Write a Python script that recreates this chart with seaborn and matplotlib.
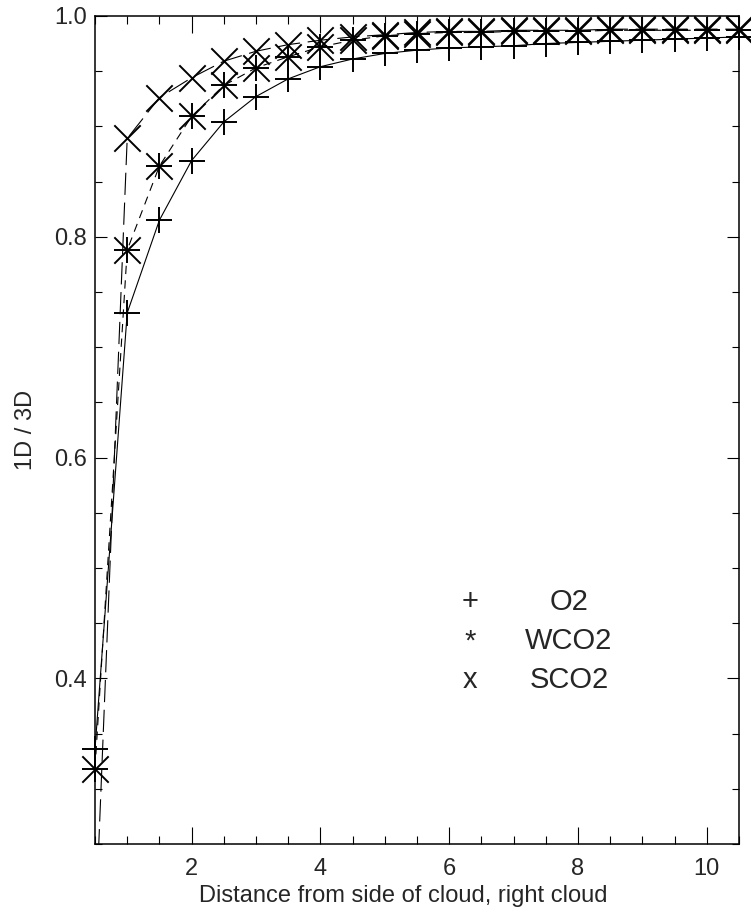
import matplotlib
matplotlib.use("Agg")
import matplotlib.pyplot as plt
from matplotlib.ticker import MultipleLocator, FixedLocator
import seaborn as sns
import pandas as pd

# distance from side of cloud (right cloud)
distance = [0.5, 1.0, 1.5, 2.0, 2.5, 3.0, 3.5, 4.0, 4.5, 5.0, 5.5,
            6.0, 6.5, 7.0, 7.5, 8.0, 8.5, 9.0, 9.5, 10.0, 10.5]

# ratio 1D / 3D for each band
o2 = [0.336, 0.731, 0.815, 0.869, 0.904, 0.927, 0.943, 0.954, 0.961, 0.966, 0.969,
      0.971, 0.972, 0.973, 0.975, 0.976, 0.977, 0.978, 0.979, 0.980, 0.981]
wco2 = [0.318, 0.788, 0.864, 0.909, 0.937, 0.953, 0.963, 0.972, 0.978, 0.982, 0.984,
        0.985, 0.985, 0.986, 0.986, 0.986, 0.987, 0.987, 0.987, 0.987, 0.987]
sco2 = [0.165, 0.889, 0.926, 0.944, 0.959, 0.968, 0.974, 0.978, 0.981, 0.983, 0.985,
        0.986, 0.986, 0.987, 0.987, 0.987, 0.988, 0.988, 0.988, 0.988, 0.988]

band_names = ["O2", "WCO2", "SCO2"]
band_symbols = ["+", "*", "x"]

x_ticks = [2, 4, 6, 8, 10]
y_ticks = [0.4, 0.6, 0.8, 1.0]

sns.set_style("ticks")
plt.rcParams["font.family"] = ["Liberation Sans", "DejaVu Sans"]
plt.rcParams["lines.scale_dashes"] = False

df = pd.DataFrame({"dist": distance, "O2": o2, "WCO2": wco2, "SCO2": sco2})

fig = plt.figure(figsize=(7.51, 9.10), dpi=100)
ax = fig.add_axes([0.1265, 0.0725, 0.8575, 0.91])

xlim = (0.5, 10.5)
ylim = (0.25, 1.0)

dash_styles = {"O2": None, "WCO2": (0, (6, 4.5)), "SCO2": (0, (16, 5.5))}
for name in band_names:
    sns.lineplot(data=df, x="dist", y=name, ax=ax, color="black", lw=0.8,
                 estimator=None, sort=False)
    if dash_styles[name] is not None:
        ax.lines[-1].set_linestyle(dash_styles[name])

# symbols, drawn unclipped like the original (only those inside the window)
marker_map = {"O2": ["+"], "WCO2": ["+", "x"], "SCO2": ["x"]}
for name in band_names:
    sub = df[(df[name] >= ylim[0]) & (df[name] <= ylim[1])]
    for m in marker_map[name]:
        sns.scatterplot(data=sub, x="dist", y=name, ax=ax, marker=m,
                        s=360, color="black", linewidth=1.4, zorder=3)
for coll in ax.collections:
    coll.set_clip_on(False)

ax.set_xlim(*xlim)
ax.set_ylim(*ylim)

ax.xaxis.set_major_locator(FixedLocator(x_ticks))
ax.xaxis.set_minor_locator(MultipleLocator(0.5))
ax.yaxis.set_major_locator(FixedLocator(y_ticks))
ax.yaxis.set_minor_locator(MultipleLocator(0.05))
ax.set_xticklabels([str(t) for t in x_ticks])
ax.set_yticklabels(["%.1f" % t for t in y_ticks])

ax.tick_params(axis="both", which="both", direction="in", top=True, right=True,
               width=0.8, labelsize=17, color="black")
ax.tick_params(axis="x", which="major", length=12, pad=10)
ax.tick_params(axis="x", which="minor", length=6)
ax.tick_params(axis="y", which="major", length=8.5, pad=6)
ax.tick_params(axis="y", which="minor", length=4.8)
for sp in ax.spines.values():
    sp.set_visible(True)
    sp.set_linewidth(1.1)
    sp.set_color("black")

ax.set_xlabel("Distance from side of cloud, right cloud", fontsize=17)
ax.set_ylabel("1D / 3D", fontsize=17)
ax.xaxis.set_label_coords(0.478, -0.050)
ax.yaxis.set_label_coords(-0.090, 0.5)

# hand-made key
key_y = [0.4624, 0.4262, 0.3910]
for sym, name, yy in zip(band_symbols, band_names, key_y):
    ax.text(6.33, yy, sym, fontsize=21, ha="center", va="baseline")
    ax.text(7.86, yy, name, fontsize=21, ha="center", va="baseline")

fig.savefig("out.png", dpi=100)
